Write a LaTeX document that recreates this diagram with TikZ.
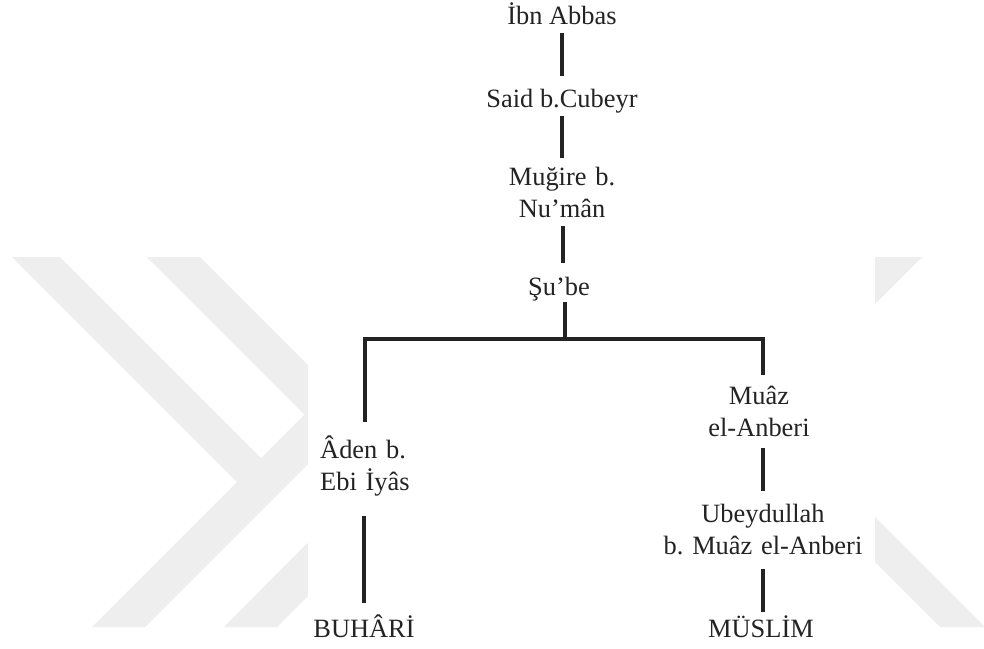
\documentclass[tikz,border=0pt]{standalone}
\usepackage{fontspec}
\setmainfont{Liberation Serif}
\usetikzlibrary{calc}
\definecolor{wm}{RGB}{238,238,238}
\definecolor{ink}{RGB}{35,35,35}
\frenchspacing
\begin{document}
\begin{tikzpicture}[x=1pt,y=-1pt,
  lbl/.style={inner sep=0pt, font=\fontsize{26.4}{32}\selectfont, text=ink, anchor=base},
  ml/.style={lbl, text width=#1, align=center},
  conn/.style={draw=ink, line width=3.8pt, line join=miter}]
\useasboundingbox (0,0) rectangle (984,648);
\fill[white] (0,0) rectangle (984,648);
% watermark
\fill[wm] (12,257) -- (60,257) -- (261,458) -- (237,482) -- cycle;
\fill[wm] (92,627) -- (145,627) -- (422,350) -- (369,350) -- cycle;
\fill[wm] (147,257) -- (200,257) -- (423.5,480.5) -- (277,627) -- (224,627) -- (370,480) -- cycle;
\fill[wm] (860,257) -- (922,257) -- (860,319) -- cycle;
\fill[wm] (860,502) -- (985,627) -- (940,627) -- (860,547) -- cycle;
\fill[white] (308,250) rectangle (875,648);
% nodes
\node[lbl] (n1) at (562,24) {İbn Abbas};
\node[lbl] (n2) at (562,107) {Said b.Cubeyr};
\node[ml=160] (n3) at (562,185) {Muğire b.\\Nu’mân};
\node[lbl] (n4) at (559,295) {Şu’be};
\node[lbl, anchor=base west, text width=120, align=left] (n5) at (320,458) {Âden b.\\Ebi İyâs};
\node[lbl] (n6) at (364,637) {BUHÂRİ};
\node[ml=160] (n7) at (759,404) {Muâz\\el-Anberi};
\node[ml=220] (n8) at (763,522) {Ubeydullah\\b. Muâz el-Anberi};
\node[lbl] (n9) at (761,637) {MÜSLİM};
% junctions
\coordinate (bm) at (565,339);
\coordinate (bl) at (365,339);
\coordinate (br) at (763,339);
% connectors
\draw[conn] ($(n1.base)+(0,9)$) -- ($(n2.base)+(0,-31)$);
\draw[conn] ($(n2.base)+(0,9)$) -- ($(n3.base)+(0,-27)$);
\draw[conn] ($(n3.base)+(1,41)$) -- ($(n4.base)+(4,-32)$);
\draw[conn] ($(n4.base)+(6,7)$) -- (bm);
\draw[conn] ($(bl)+(0,83)$) -- (bl) -- (br) -- ($(n7.base)+(4,-29)$);
\draw[conn] ($(n7.base)+(4,44)$) -- ($(n8.base)+(0,-31)$);
\draw[conn] ($(n8.base)+(0,47)$) -- ($(n9.base)+(2,-25)$);
\draw[conn, line width=3.2pt] (364,516) -- ($(n6.base)+(0,-34)$);
\end{tikzpicture}
\end{document}
